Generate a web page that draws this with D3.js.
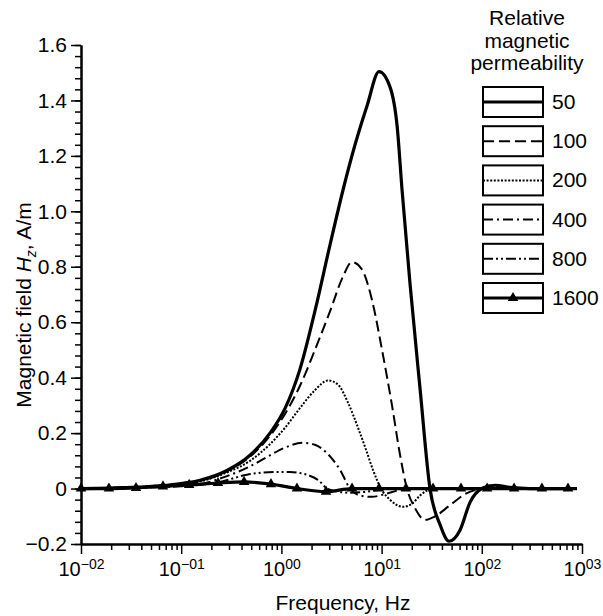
<!DOCTYPE html>
<html>
<head>
<meta charset="utf-8">
<script src="https://cdn.jsdelivr.net/npm/d3@7"></script>
<style>
  body { margin: 0; background: #fff; }
  text { font-family: "Liberation Sans", Arial, sans-serif; fill: #000; }
</style>
</head>
<body>
<script>
// values (frequency in Hz, Hz field in A/m)
const permeability = ["50", "100", "200", "400", "800", "1600"];

const freq50 = [0.01, 0.0316, 0.1, 0.154, 0.286, 0.486, 0.769, 1.09, 1.53, 2.16, 3.06, 4.12, 5.43, 7.15, 9.42, 12.1, 14.3, 16.0, 19.2, 24.2, 30.4, 38.3, 47.1, 60.6, 76.3, 100, 136, 191, 303, 891];
const hz50 = [0, 0.004, 0.018, 0.03, 0.065, 0.12, 0.2, 0.29, 0.43, 0.64, 0.88, 1.077, 1.24, 1.38, 1.504, 1.45, 1.306, 1.077, 0.74, 0.36, 0, -0.13, -0.19, -0.15, -0.05, 0, 0.012, 0.004, 0, 0];

const freq100 = [0.01, 0.1, 0.286, 0.486, 0.769, 1.09, 1.53, 2.16, 3.06, 4.12, 5.07, 6.37, 8.02, 10.1, 12.7, 15.3, 17.9, 21.5, 27.1, 34.1, 48.2, 68.0, 96, 121, 171, 241, 891];
const hz100 = [0, 0.017, 0.062, 0.115, 0.19, 0.27, 0.37, 0.50, 0.64, 0.765, 0.817, 0.79, 0.68, 0.50, 0.30, 0.12, 0, -0.07, -0.113, -0.10, -0.06, -0.02, 0, 0.01, 0.004, 0, 0];

const freq200 = [0.01, 0.1, 0.286, 0.486, 0.769, 1.09, 1.53, 2.16, 2.92, 3.67, 4.62, 5.81, 6.99, 8.21, 9.86, 12.1, 16.4, 20.1, 24.2, 32.6, 891];
const hz200 = [0, 0.015, 0.058, 0.1, 0.16, 0.22, 0.29, 0.355, 0.39, 0.375, 0.31, 0.22, 0.14, 0.067, 0, -0.04, -0.066, -0.055, -0.025, 0, 0];

const freq400 = [0.01, 0.1, 0.154, 0.286, 0.486, 0.769, 1.09, 1.64, 2.16, 2.85, 3.85, 4.84, 6.09, 8.02, 10.8, 15.3, 21.5, 891];
const hz400 = [0, 0.01, 0.016, 0.045, 0.08, 0.12, 0.148, 0.165, 0.158, 0.128, 0.067, 0, -0.025, -0.03, -0.02, -0.005, 0, 0];

const freq800 = [0.01, 0.1, 0.244, 0.454, 0.904, 1.22, 1.53, 2.43, 2.85, 3.59, 4.84, 6.83, 9.64, 13.6, 891];
const hz800 = [0, 0.008, 0.024, 0.05, 0.06, 0.06, 0.056, 0.025, 0, -0.01, -0.015, -0.012, -0.004, 0, 0];

const freq1600 = [0.01, 0.019, 0.0354, 0.0658, 0.120, 0.233, 0.424, 0.787, 1.43, 2.79, 5.07, 9.42, 17.5, 32.6, 62.0, 113, 210, 398, 725];
const hz1600 = [0, 0, 0.002, 0.008, 0.013, 0.02, 0.024, 0.016, 0, -0.011, 0, 0, 0, 0, 0, 0, 0, 0, 0];

const xMajor = [0.01, 0.1, 1, 10, 100, 1000];
const xExponents = ["\u221202", "\u221201", "00", "01", "02", "03"];
const yMajor = [-0.2, 0, 0.2, 0.4, 0.6, 0.8, 1.0, 1.2, 1.4, 1.6];
const yLabels = ["\u22120.2", "0", "0.2", "0.4", "0.6", "0.8", "1.0", "1.2", "1.4", "1.6"];

const freqs = [freq50, freq100, freq200, freq400, freq800, freq1600];
const values = [hz50, hz100, hz200, hz400, hz800, hz1600];

const styles = [
    {width: 3.2, dash: null},
    {width: 2, dash: "11,5"},
    {width: 2, dash: "2,1.6"},
    {width: 2, dash: "10,4,2,4"},
    {width: 2, dash: "10,3,2,3,2,3"},
    {width: 3.2, dash: null}
];

const W = 603, H = 616;

let svg = d3.select("body").append("svg")
    .attr("width", W)
    .attr("height", H);

let x = d3.scaleLog().domain([0.01, 1000]).range([81, 582]);
let y = d3.scaleLinear().domain([-0.2, 1.6]).range([544, 45]);

// minor tick positions
let xMinor = [];
xMajor.slice(0, -1).forEach(d => {
    for (let m = 2; m <= 9; m++) xMinor.push(d * m);
});
let yMinor = d3.range(0, 46).map(i => -0.2 + i * 0.04);

function styleAxis(g) {
    g.select(".domain").attr("stroke-width", 2);
    g.selectAll(".tick line").attr("stroke-width", 1.5);
}

// x axis
svg.append("g")
    .attr("transform", "translate(0,544)")
    .call(d3.axisBottom(x).tickValues(xMinor).tickSize(6).tickSizeOuter(0).tickFormat(""))
    .call(styleAxis);

let xAx = svg.append("g")
    .attr("transform", "translate(0,544)")
    .call(d3.axisBottom(x).tickValues(xMajor).tickSize(10).tickSizeOuter(0).tickFormat(""))
    .call(styleAxis);

xAx.selectAll(".tick text").remove();
xAx.selectAll(".tick").append("text")
    .attr("y", 32)
    .attr("text-anchor", "middle")
    .attr("font-size", 20)
    .each(function(d, i) {
        let t = d3.select(this);
        t.append("tspan").text("10");
        t.append("tspan").attr("dy", -7).attr("font-size", 14).text(xExponents[i]);
    });

// y axis
svg.append("g")
    .attr("transform", "translate(81,0)")
    .call(d3.axisLeft(y).tickValues(yMinor).tickSize(6).tickSizeOuter(0).tickFormat(""))
    .call(styleAxis);

let yAx = svg.append("g")
    .attr("transform", "translate(81,0)")
    .call(d3.axisLeft(y).tickValues(yMajor).tickSize(10).tickSizeOuter(0).tickPadding(4)
        .tickFormat((d, i) => yLabels[i]))
    .call(styleAxis);

yAx.selectAll(".tick text")
    .attr("font-size", 21)
    .attr("font-family", "Liberation Sans, Arial, sans-serif")
    .attr("fill", "#000");

// axis titles
svg.append("text")
    .attr("x", 343)
    .attr("y", 610)
    .attr("text-anchor", "middle")
    .attr("font-size", 21)
    .text("Frequency, Hz");

let yTitle = svg.append("text")
    .attr("transform", "translate(31,305) rotate(-90)")
    .attr("text-anchor", "middle")
    .attr("font-size", 21);
yTitle.append("tspan").text("Magnetic field ");
yTitle.append("tspan").attr("font-style", "italic").text("H");
yTitle.append("tspan").attr("font-style", "italic").attr("font-size", 14).attr("dy", 5).text("z");
yTitle.append("tspan").attr("dy", -5).text(", A/m");

// curves
let line = d3.line()
    .x(d => x(d[0]))
    .y(d => y(d[1]))
    .curve(d3.curveMonotoneX);

freqs.forEach((f, i) => {
    let pts = f.map((d, j) => [d, values[i][j]]);
    svg.append("path")
        .datum(pts)
        .attr("d", line)
        .attr("fill", "none")
        .attr("stroke", "#000")
        .attr("stroke-width", styles[i].width)
        .attr("stroke-dasharray", styles[i].dash)
        .attr("stroke-linejoin", "round");
});

let tri = d3.symbol(d3.symbolTriangle, 48);
svg.append("g").selectAll("path")
    .data(freq1600.map((d, j) => [d, hz1600[j]]))
    .join("path")
    .attr("d", tri)
    .attr("transform", d => "translate(" + x(d[0]) + "," + y(d[1]) + ")")
    .attr("fill", "#000");

// legend
let title = ["Relative", "magnetic", "permeability"];
svg.append("g").selectAll("text")
    .data(title)
    .join("text")
    .attr("x", 527)
    .attr("y", (d, i) => 25 + i * 22.5)
    .attr("text-anchor", "middle")
    .attr("font-size", 21)
    .text(d => d);

let leg = svg.append("g").selectAll("g")
    .data(permeability)
    .join("g")
    .attr("transform", (d, i) => "translate(483," + (87 + i * 39.2) + ")");

leg.append("rect")
    .attr("width", 60)
    .attr("height", 30)
    .attr("fill", "#fff")
    .attr("stroke", "#000")
    .attr("stroke-width", 2);

leg.append("line")
    .attr("x1", 0).attr("x2", 60)
    .attr("y1", 15).attr("y2", 15)
    .attr("stroke", "#000")
    .attr("stroke-width", (d, i) => styles[i].width)
    .attr("stroke-dasharray", (d, i) => styles[i].dash);

leg.filter((d, i) => i === 5).append("path")
    .attr("d", tri)
    .attr("transform", "translate(30,15)")
    .attr("fill", "#000");

leg.append("text")
    .attr("x", 69)
    .attr("y", 22)
    .attr("font-size", 21)
    .text(d => d);
</script>
</body>
</html>
